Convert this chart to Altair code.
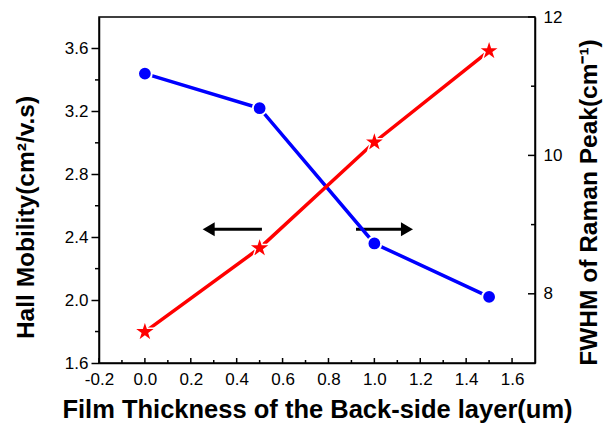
import altair as alt
import pandas as pd

# ---- data ----
thickness = [0.0, 0.5, 1.0, 1.5]
hall_mobility = [3.44, 3.22, 2.36, 2.02]
fwhm_raman = [7.45, 8.66, 10.19, 11.51]

x_major = [-0.2, 0.0, 0.2, 0.4, 0.6, 0.8, 1.0, 1.2, 1.4, 1.6]
x_minor = [-0.1, 0.1, 0.3, 0.5, 0.7, 0.9, 1.1, 1.3, 1.5]
left_major = [1.6, 2.0, 2.4, 2.8, 3.2, 3.6]
left_minor = [1.8, 2.2, 2.6, 3.0, 3.4]
right_major = [8, 10, 12]
right_minor = [9, 11]

arrow_level = [2.45, 2.45]      # on the Hall-mobility scale
arrow_tail = [0.51, 0.92]
arrow_head = [0.28, 1.14]

W, H = 436, 346
FONT = "Liberation Sans"
BLUE = "#0000FF"
RED = "#FF0000"

STAR = ("M0,-1L0.2245,-0.309L0.951,-0.309L0.363,0.118L0.588,0.809L0,0.382"
        "L-0.588,0.809L-0.363,0.118L-0.951,-0.309L-0.2245,-0.309Z")

x_scale = alt.Scale(domain=[-0.2, 1.7], nice=False, zero=False)
yl_scale = alt.Scale(domain=[1.6, 3.8], nice=False, zero=False)
yr_scale = alt.Scale(domain=[7, 12], nice=False, zero=False)

x_axis = alt.Axis(title="Film Thickness of the Back-side layer(um)", values=x_major,
                  labelExpr="replace(format(datum.value, '.1f'), '\u2212', '-')",
                  tickSize=0, labelPadding=8, labelFlush=False,
                  titleY=46, titleBaseline="middle", titleFontSize=25.5)
yl_axis = alt.Axis(title="Hall Mobility(cm²/v.s)", values=left_major, format=".1f",
                   orient="left", tickSize=8, labelPadding=3, labelFlush=False,
                   titleX=-73, titleY=200, titleBaseline="middle", titleAngle=270,
                   titleAlign="center")
yr_axis = alt.Axis(title="FWHM of Raman Peak(cm⁻¹)", values=right_major, format="d",
                   orient="right", tickSize=0, labelPadding=8, labelFlush=False,
                   titleX=54, titleY=185, titleBaseline="middle", titleAngle=270,
                   titleAlign="center")

df = pd.DataFrame({"thickness": thickness, "hall": hall_mobility, "fwhm": fwhm_raman})

X = alt.X("thickness:Q", scale=x_scale, axis=x_axis)

blue_line = alt.Chart(df).mark_line(color=BLUE, strokeWidth=3.5).encode(
    x=X, y=alt.Y("hall:Q", scale=yl_scale, axis=yl_axis))
blue_pts = alt.Chart(df).mark_point(shape="circle", filled=True, fill=BLUE, stroke="white",
                                    strokeWidth=2, size=190, opacity=1).encode(
    x=X, y=alt.Y("hall:Q", scale=yl_scale, axis=yl_axis))

red_line = alt.Chart(df).mark_line(color=RED, strokeWidth=3.5).encode(
    x=X, y=alt.Y("fwhm:Q", scale=yr_scale, axis=yr_axis))
red_pts = alt.Chart(df).mark_point(shape=STAR, filled=True, fill=RED, stroke="white",
                                   strokeWidth=1.5, size=520, opacity=1).encode(
    x=X, y=alt.Y("fwhm:Q", scale=yr_scale, axis=yr_axis))

# minor / inward ticks
lminor = alt.Chart(pd.DataFrame({"v": left_minor})).mark_rule(color="black", strokeWidth=1.5).encode(
    y=alt.Y("v:Q", scale=yl_scale, axis=yl_axis), x=alt.value(-4), x2=alt.value(0))
xmaj = alt.Chart(pd.DataFrame({"t": x_major})).mark_rule(color="black", strokeWidth=1.5).encode(
    x=alt.X("t:Q", scale=x_scale, axis=x_axis), y=alt.value(H), y2=alt.value(H - 5))
xmin = alt.Chart(pd.DataFrame({"t": x_minor})).mark_rule(color="black", strokeWidth=1.5).encode(
    x=alt.X("t:Q", scale=x_scale, axis=x_axis), y=alt.value(H), y2=alt.value(H - 3))
rmaj = alt.Chart(pd.DataFrame({"v": right_major})).mark_rule(color="black", strokeWidth=1.5).encode(
    y=alt.Y("v:Q", scale=yr_scale, axis=yr_axis), x=alt.value(W), x2=alt.value(W - 7))
rmin = alt.Chart(pd.DataFrame({"v": right_minor})).mark_rule(color="black", strokeWidth=1.5).encode(
    y=alt.Y("v:Q", scale=yr_scale, axis=yr_axis), x=alt.value(W), x2=alt.value(W - 4))

# arrows
arr = pd.DataFrame({"tail": arrow_tail, "head": arrow_head, "lvl": arrow_level,
                    "dir": ["triangle-left", "triangle-right"]})
arrow_shafts = alt.Chart(arr).mark_rule(color="black", strokeWidth=3).encode(
    x=alt.X("tail:Q", scale=x_scale, axis=x_axis), x2="head:Q",
    y=alt.Y("lvl:Q", scale=yl_scale, axis=yl_axis))
arrow_heads = alt.Chart(arr).mark_point(filled=True, fill="black", stroke="black",
                                        size=110, opacity=1).encode(
    x=alt.X("head:Q", scale=x_scale, axis=x_axis),
    y=alt.Y("lvl:Q", scale=yl_scale, axis=yl_axis),
    shape=alt.Shape("dir:N", scale=alt.Scale(domain=["triangle-left", "triangle-right"],
                                             range=["triangle-left", "triangle-right"]),
                    legend=None))

left_group = alt.layer(lminor, xmaj, xmin, arrow_shafts, arrow_heads, blue_line, blue_pts)
right_group = alt.layer(rmaj, rmin, red_line, red_pts)

chart = alt.layer(left_group, right_group).resolve_scale(y="independent").properties(
    width=W, height=H,
    padding={"left": 91, "top": 9, "right": 70, "bottom": 60},
    autosize=alt.AutoSizeParams(type="none"),
    background="white",
).configure_view(stroke="black", strokeWidth=1.5).configure_axis(
    labelFont=FONT, labelFontSize=17, labelColor="black",
    titleFont=FONT, titleFontSize=24.5, titleFontWeight="bold", titleColor="black",
    domainColor="black", domainWidth=1.5, tickColor="black", tickWidth=1.5, grid=False,
)

chart.save("out.html", embed_options={"renderer": "svg", "actions": False})
